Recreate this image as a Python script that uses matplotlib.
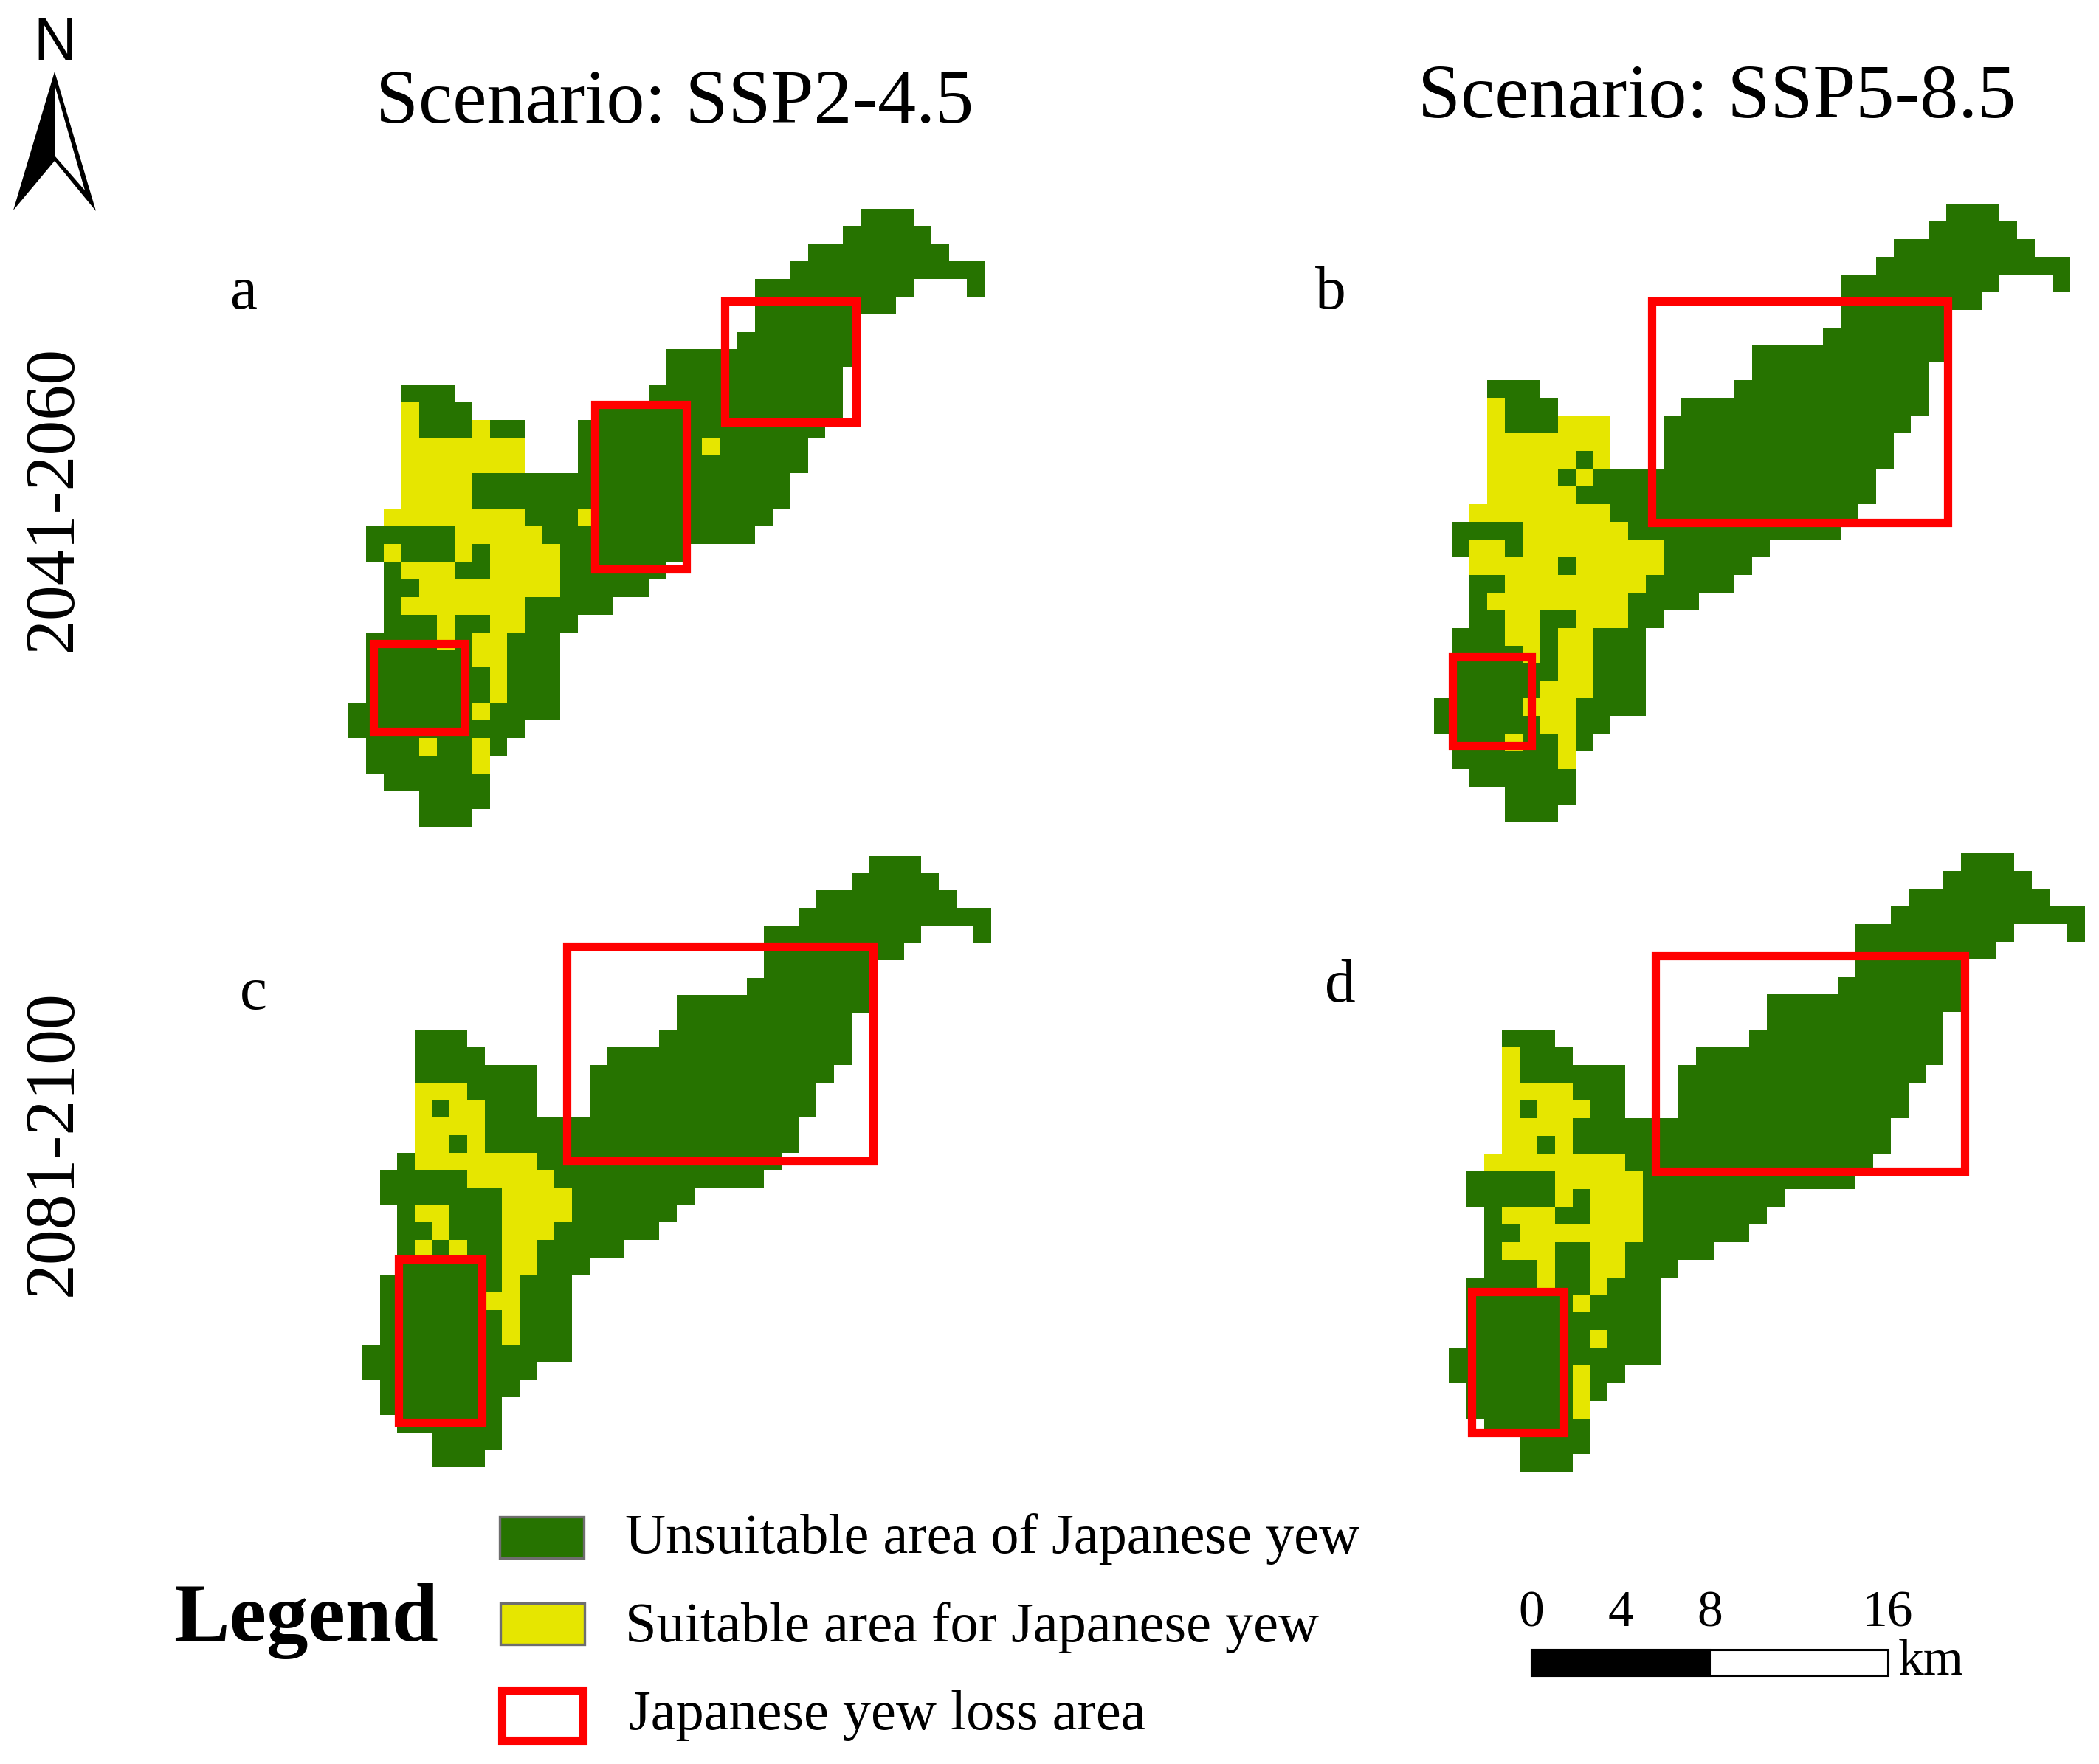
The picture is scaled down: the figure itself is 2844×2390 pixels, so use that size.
import numpy as np
import matplotlib
matplotlib.use("Agg")
import matplotlib.pyplot as plt
from matplotlib.colors import ListedColormap
from matplotlib.patches import Rectangle, Polygon

W, H = 2844, 2390
GREEN, YELLOW, RED = "#267300", "#E6E600", "#FF0000"

# Study-area outline: cell spans [start, end) per raster row
OUTLINE = [
    [(29, 32)], [(28, 33)], [(26, 34)], [(25, 36)], [(23, 32), (35, 36)],
    [(23, 31)], [(23, 29)], [(22, 29)], [(18, 29)], [(18, 28)],
    [(3, 6), (17, 28)], [(3, 7), (14, 28)], [(3, 10), (13, 27)],
    [(3, 10), (13, 26)], [(3, 10), (13, 26)], [(3, 25)], [(3, 25)], [(2, 24)],
    [(1, 23)], [(1, 19)], [(2, 18)], [(2, 17)], [(2, 15)], [(2, 13)],
    [(1, 12)], [(1, 12)], [(1, 12)], [(1, 12)], [(0, 12)], [(0, 10)],
    [(1, 9)], [(1, 8)], [(2, 8)], [(4, 8)], [(4, 7)],
]

# Suitable cells: row -> spans
YELLOW_A = {11: [(3, 4)], 12: [(3, 4), (7, 8)], 13: [(3, 10), (20, 21)], 14: [(3, 10)],
            15: [(3, 7)], 16: [(3, 7)], 17: [(2, 10), (13, 14)], 18: [(6, 11)],
            19: [(2, 3), (6, 7), (8, 12)], 20: [(3, 6), (8, 12)], 21: [(4, 12)],
            22: [(3, 10)], 23: [(5, 6), (8, 10)], 24: [(5, 6), (7, 9)], 25: [(7, 9)],
            26: [(8, 9)], 27: [(8, 9)], 28: [(7, 8)], 30: [(4, 5), (7, 8)], 31: [(7, 8)]}
YELLOW_B = {11: [(3, 4)], 12: [(3, 4), (7, 10)], 13: [(3, 10)], 14: [(3, 8), (9, 10)],
            15: [(3, 7), (8, 9)], 16: [(3, 8)], 17: [(2, 10)], 18: [(5, 11)],
            19: [(2, 4), (5, 13)], 20: [(2, 7), (8, 13)], 21: [(4, 12)], 22: [(3, 11)],
            23: [(4, 6), (8, 11)], 24: [(4, 6), (7, 9)], 25: [(5, 6), (7, 9)], 26: [(7, 9)],
            27: [(6, 9)], 28: [(5, 8)], 29: [(6, 8)], 30: [(4, 5), (7, 8)], 31: [(7, 8)]}
YELLOW_C = {13: [(3, 6)], 14: [(3, 4), (5, 7)], 15: [(3, 7)], 16: [(3, 5), (6, 7)],
            17: [(3, 10)], 18: [(6, 11)], 19: [(8, 12)], 20: [(3, 5), (8, 12)],
            21: [(4, 5), (8, 11)], 22: [(3, 4), (5, 6), (8, 10)], 23: [(8, 10)],
            24: [(8, 9)], 25: [(7, 9)], 26: [(8, 9)], 27: [(8, 9)]}
YELLOW_D = {11: [(3, 4)], 12: [(3, 4)], 13: [(3, 7)], 14: [(3, 4), (5, 8)], 15: [(3, 7)],
            16: [(3, 5), (6, 7)], 17: [(2, 10)], 18: [(6, 11)], 19: [(6, 7), (8, 11)],
            20: [(3, 6), (8, 11)], 21: [(4, 11)], 22: [(3, 6), (8, 10)],
            23: [(5, 6), (8, 10)], 24: [(5, 6), (8, 9)], 25: [(7, 8)], 27: [(8, 9)],
            29: [(7, 8)], 30: [(7, 8)], 31: [(7, 8)]}

# Loss-area boxes: (col0, row0, col1, row1)
LOSS_A = [(21.34, 5.23, 28.75, 12.09), (13.96, 11.10, 19.16, 20.39), (1.44, 24.63, 6.64, 29.61)]
LOSS_B = [(12.35, 5.48, 29.11, 18.02), (1.08, 25.62, 5.52, 30.62)]
LOSS_C = [(11.72, 5.17, 29.25, 17.46), (2.09, 23.10, 6.84, 32.43)]
LOSS_D = [(11.68, 5.83, 29.18, 18.02), (1.29, 24.81, 6.50, 32.79)]

PANEL_LABELS = ["a", "b", "c", "d"]
SCENARIOS = ["Scenario: SSP2-4.5", "Scenario: SSP5-8.5"]
PERIODS = ["2041-2060", "2081-2100"]
LEGEND_LABELS = ["Unsuitable area of Japanese yew", "Suitable area for Japanese yew",
                 "Japanese yew loss area"]
SCALE_KM = [0, 4, 8, 16]

plt.rcParams["font.family"] = ["Liberation Serif", "DejaVu Serif"]
fig = plt.figure(figsize=(W / 100, H / 100), dpi=100, facecolor="white")
cmap = ListedColormap([GREEN, YELLOW])


def build(yellow):
    g = np.full((len(OUTLINE), 36), np.nan)
    for r, spans in enumerate(OUTLINE):
        for a, b in spans:
            g[r, a:b] = 0
    for r, spans in yellow.items():
        for a, b in spans:
            g[r, a:b] = 1
    return g


def panel(x0, y0, cell, yellow, boxes):
    w, h = 36 * cell, 35 * cell
    ax = fig.add_axes([x0 / W, 1 - (y0 + h) / H, w / W, h / H])
    ax.imshow(build(yellow), cmap=cmap, vmin=0, vmax=1, extent=(0, 36, 35, 0),
              aspect="auto", interpolation="nearest")
    for c0, r0, c1, r1 in boxes:
        ax.add_patch(Rectangle((c0, r0), c1 - c0, r1 - r0, fill=False, ec=RED,
                               lw=11.2 * 0.72, clip_on=False, zorder=5))
    ax.axis("off")


panel(471.5, 282.6, 23.94, YELLOW_A, LOSS_A)
panel(1942.6, 276.6, 23.94, YELLOW_B, LOSS_B)
panel(490.7, 1159.7, 23.66, YELLOW_C, LOSS_C)
panel(1963.0, 1155.9, 23.94, YELLOW_D, LOSS_D)

# Overlay in pixel units for annotations
ov = fig.add_axes([0, 0, 1, 1], zorder=10)
ov.set_xlim(0, W)
ov.set_ylim(H, 0)
ov.axis("off")
ov.patch.set_alpha(0)

ov.text(914, 166, SCENARIOS[0], fontsize=75, ha="center", va="baseline")
ov.text(2326, 159, SCENARIOS[1], fontsize=75, ha="center", va="baseline")
ov.text(74, 675, PERIODS[0], fontsize=69, rotation=90, ha="center", va="center")
ov.text(74, 1549, PERIODS[1], fontsize=69, rotation=90, ha="center", va="center")
for lab, (x, y) in zip(PANEL_LABELS, [(330, 418), (1803, 418), (343, 1367), (1816, 1357)]):
    ov.text(x, y, lab, fontsize=60, ha="center", va="baseline")

# Legend
ov.text(235, 2223, "Legend", fontsize=81.5, fontweight="bold", ha="left", va="baseline")
ov.add_patch(Rectangle((677, 2055), 114, 56, fc=GREEN, ec="#6e6e6e", lw=2.4))
ov.add_patch(Rectangle((678, 2172), 114, 56, fc=YELLOW, ec="#6e6e6e", lw=2.4))
ov.add_patch(Rectangle((679.5, 2290), 110, 68, fc="white", ec=RED, lw=8))
for lab, x, y in zip(LEGEND_LABELS, [847, 847, 852], [2104, 2224, 2343]):
    ov.text(x, y, lab, fontsize=54.9, ha="left", va="baseline")

# Scale bar
x_s, px_km = 2075.0, 30.16
ov.add_patch(Rectangle((x_s, 2235), 16 * px_km, 35, fc="white", ec="black", lw=2.2))
ov.add_patch(Rectangle((x_s, 2235), 8 * px_km, 35, fc="black", ec="black", lw=2.2))
for km in SCALE_KM:
    ov.text(x_s + km * px_km, 2203, str(km), fontsize=50, ha="center", va="baseline")
ov.text(2572, 2269, "km", fontsize=50, ha="left", va="baseline")

# North arrow
ov.add_patch(Polygon([(74, 97), (130, 286), (74, 218), (18, 285)], closed=True, fc="black", ec="none"))
ov.add_patch(Polygon([(74, 115), (115, 258), (74, 211)], closed=True, fc="white", ec="none"))
ov.text(75, 81, "N", fontsize=58, family="Liberation Sans", ha="center", va="baseline")

fig.savefig("out.png", dpi=100, facecolor="white")
